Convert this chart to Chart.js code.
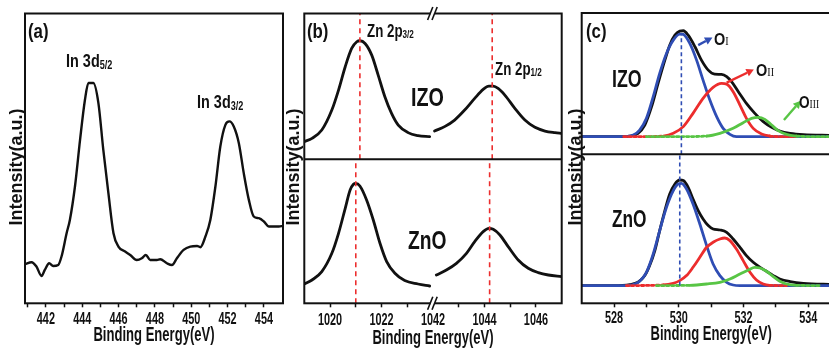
<!DOCTYPE html>
<html><head><meta charset="utf-8">
<script src="https://cdn.jsdelivr.net/npm/chart.js@4.4.1/dist/chart.umd.min.js"></script>
<style>
html,body{margin:0;padding:0;background:#fff;overflow:hidden;width:829px;height:349px;}
#wrap{position:relative;width:829px;height:349px;overflow:hidden;background:#fff;}
#wrap canvas{position:absolute;top:0;}
</style></head><body>
<div id="wrap">
<canvas id="ca" width="286" height="349" style="left:0px"></canvas>
<canvas id="cb" width="278" height="349" style="left:286px"></canvas>
<canvas id="cc" width="300" height="349" style="left:564px"></canvas>
</div>
<script>
// ---------------- data (binding energy in eV, intensity in a.u.) ----------------
// (a) In 3d
const aBE = [440.85,441.21,441.48,441.76,441.94,442.18,442.40,442.68,442.86,443.14,443.32,443.60,443.88,444.15,444.34,444.61,444.89,445.16,445.44,445.72,445.99,446.36,446.64,447.00,447.28,447.50,447.74,448.11,448.29,448.66,448.94,449.21,449.58,449.95,450.32,450.50,450.78,451.05,451.33,451.60,451.88,452.10,452.34,452.62,452.89,453.17,453.44,453.72,454.00,454.27,454.55,454.82,455.05];
const aInt = [39,41,36.7,27.3,33.3,40,37.3,38.3,46.7,70,83.3,116.7,163.3,203.3,220,220,200,153.3,110,70,56.7,51.7,48.3,43.3,45,48.3,43.3,43.3,44,40,38.3,45,53.3,56.7,57.3,56,66.7,83.3,116.7,156.7,178.3,181.7,176.7,160,130,103.3,86.7,85,81.7,76.7,76.7,76.7,77.3];
const aTickMarks = [441,442,443,444,445,446,447,448,449,450,451,452,453,454];
const aTickLabels = [442,444,446,448,450,452,454];

// (b) Zn 2p, broken axis
const bIzo32BE = [1019.0,1019.30,1019.68,1020.07,1020.33,1020.59,1020.84,1021.04,1021.16,1021.36,1021.62,1021.87,1022.13,1022.39,1022.65,1023.03,1023.42,1023.87];
const bIzo32I  = [17.7,21,29.3,49.3,69.3,92.7,111,117.7,118.7,116,104.3,84.3,62.7,46,34.3,26.7,23.7,22.7];
const bZno32BE = [1019.0,1019.30,1019.68,1020.07,1020.33,1020.59,1020.78,1020.91,1021.0,1021.16,1021.42,1021.68,1021.94,1022.20,1022.52,1022.90,1023.42,1023.87];
const bZno32I  = [19.3,23.3,31.7,50,70,95,113.3,119,120,117.3,103.3,83.3,60,41.7,30,22.7,19.3,17.3];
const bIzo12BE = [1042.06,1042.45,1042.84,1043.23,1043.62,1043.95,1044.17,1044.34,1044.53,1044.79,1045.18,1045.57,1045.96,1046.35,1046.74,1047.0];
const bIzo12I  = [28.3,32.7,39.3,49.3,61,70,73.3,73.3,71,64.3,51,39.3,32,28.3,26.7,26];
const bZno12BE = [1042.13,1042.52,1042.91,1043.30,1043.62,1043.95,1044.17,1044.34,1044.60,1044.92,1045.31,1045.70,1046.09,1046.48,1047.0];
const bZno12I  = [28.3,33.3,40,50,61.7,71.7,75,74,68.3,56.7,43.3,35,30.7,28.3,26.7];
const bIzoPeaks = [1021.16, 1044.3];
const bZnoPeaks = [1021.0, 1044.2];
const bLeftTickMarks = [1020,1021,1022,1023];
const bRightTickMarks = [1043,1044,1045,1046];
const bLeftTickLabels = [1020,1022];
const bRightTickLabels = [1042,1044,1046];

// (c) O 1s fits
const cIzoEnvBE = [527.0,528.0,528.5,528.74,528.95,529.16,529.36,529.57,529.72,529.88,530.03,530.14,530.29,530.5,530.7,530.91,531.11,531.32,531.48,531.63,531.84,532.09,532.35,532.61,532.87,533.12,533.44,533.85,534.64,535.0];
const cIzoEnvI  = [17.7,17.7,18.3,21,29.3,47.7,71,94.3,109.3,119.3,123.3,123.7,119.3,107.7,94.3,84.3,80.3,80,77.7,72.7,62.7,51,41,32.7,27,23.3,21,19.7,19,18.8];
const cIzoO1BE = [527.0,528.18,528.59,528.79,529.0,529.21,529.41,529.62,529.83,530.03,530.14,530.34,530.55,530.75,530.96,531.17,531.37,531.58,531.78,535.0];
const cIzoO1I  = [17.7,17.7,19.3,24.3,36,57.7,81,101,114.3,120.3,120,111,94.3,74.3,54.3,37.7,26,20,17.7,17.7];
const cIzoO2BE = [528.3,529.0,529.52,529.83,530.14,530.44,530.75,531.06,531.32,531.48,531.68,531.89,532.09,532.3,532.56,532.82,533.12,533.6];
const cIzoO2I  = [17.7,17.7,18.3,21,27.7,41,56,67,71,70.3,62.7,49.3,36,26,20.3,18.3,17.7,17.7];
const cIzoO3BE = [529.0,530.03,530.86,531.27,531.68,531.99,532.25,532.46,532.66,532.87,533.07,533.33,533.64,534.16,534.64];
const cIzoO3I  = [17.7,17.7,18.3,21,26,31.7,36,37,35,29.3,23.7,20,18.3,17.7,17.7];
const cZnoEnvBE = [527.0,527.97,528.49,528.74,528.95,529.10,529.26,529.41,529.57,529.72,529.88,530.03,530.14,530.29,530.44,530.60,530.75,530.91,531.06,531.27,531.48,531.68,531.89,532.09,532.30,532.51,532.71,532.92,533.12,533.44,533.85,534.64,535.0];
const cZnoEnvI  = [17.7,17.7,18.7,21,27.7,37.7,52.7,72.7,92.7,109.3,119.3,123.3,122.7,116,104.3,92.7,84.3,77.7,74.3,73.3,71,64.3,56,47.7,41,36,32,27.7,24.3,21.7,20,19,18.8];
const cZnoO1BE = [527.0,528.28,528.59,528.79,529.0,529.21,529.41,529.62,529.83,529.98,530.08,530.24,530.44,530.65,530.86,531.06,531.27,531.48,531.68,531.89,535.0];
const cZnoO1I  = [17.7,17.7,18.7,22,31,49.3,72.7,96,112.7,119.3,120,114.3,99.3,79.3,57.7,39.3,27.7,21,18.3,17.7,17.7];
const cZnoO2BE = [528.38,529.52,529.83,530.03,530.24,530.44,530.65,530.86,531.06,531.27,531.42,531.58,531.78,531.99,532.2,532.4,532.61,532.81,533.33];
const cZnoO2I  = [17.7,18.3,20,22.7,27.7,36,46,56,61,64.3,65.3,62.7,54.3,42.7,31,23.3,19.3,18,17.7];
const cZnoO3BE = [529.31,530.34,530.86,531.27,531.58,531.89,532.15,532.35,532.51,532.71,532.92,533.12,533.33,533.64,534.36];
const cZnoO3I  = [17.7,18,19.3,21,24.3,29.3,33.3,36,35.3,32,26.7,22,19.3,18,17.7];
const cBaseline = 17.7;
const cIzoO1Peak = 530.08;
const cZnoO1Peak = 530.03;
const cTickMarks = [528,529,530,531,532,533,534];
const cTickLabels = [528,530,532,534];

// ---------------- styling / helpers ----------------
const FONT = '"Liberation Sans", Arial, Helvetica, sans-serif';
const SERIF = '"Liberation Serif", "DejaVu Serif", serif';
const INK = '#111111';
const RED = '#ec2d2d';
const BLUE = '#2f4db4';
const GREEN = '#58c545';
const SX = 0.72, TICK_SX = 0.64, TITLE_SX = 0.67;
const X_TITLE = 'Binding Energy(eV)';
const Y_TITLE = 'Intensity(a.u.)';

function pts(be, it) { return be.map((x, i) => ({x: x, y: it[i]})); }
function curve(be, it, color, width, xId, yId, extra) {
  return Object.assign({
    data: pts(be, it), borderColor: color, borderWidth: width,
    xAxisID: xId, yAxisID: yId, pointRadius: 0, fill: false,
    cubicInterpolationMode: 'monotone', borderJoinStyle: 'round', borderCapStyle: 'round'
  }, extra || {});
}
function vline(x, y0, y1, color, width, dash, xId, yId) {
  return {data: [{x: x, y: y0}, {x: x, y: y1}], borderColor: color, borderWidth: width, borderDash: dash,
    xAxisID: xId, yAxisID: yId, pointRadius: 0, tension: 0, fill: false};
}
function xAxis(min, max, marks, h, extra) {
  return Object.assign({
    type: 'linear', position: 'bottom', min: min, max: max,
    afterBuildTicks: s => { s.ticks = marks.map(v => ({value: v})); },
    afterFit: s => { s.height = h; },
    ticks: {display: false},
    grid: {display: true, drawOnChartArea: false, drawTicks: true, tickLength: 4, tickWidth: 1.5, tickColor: INK},
    border: {display: false}
  }, extra || {});
}
function yAxis(min, max, extra) {
  return Object.assign({type: 'linear', display: false, min: min, max: max}, extra || {});
}
const nearBase = c => (c.p0.parsed.y < cBaseline + 0.8 && c.p1.parsed.y < cBaseline + 0.8) ? [2.5, 2.5] : undefined;

function text(ctx, parts, x, y, opt) {
  opt = opt || {};
  const sx = opt.sx || SX;
  ctx.save();
  ctx.fillStyle = opt.color || INK;
  ctx.textBaseline = 'alphabetic';
  ctx.textAlign = 'left';
  let total = 0;
  parts.forEach(p => { ctx.font = (p[4] || 'bold') + ' ' + p[1] + 'px ' + (p[3] || FONT); total += ctx.measureText(p[0]).width * sx; });
  let cx = x - (opt.align === 'center' ? total / 2 : (opt.align === 'right' ? total : 0));
  parts.forEach(p => {
    ctx.font = (p[4] || 'bold') + ' ' + p[1] + 'px ' + (p[3] || FONT);
    const w = ctx.measureText(p[0]).width;
    ctx.save(); ctx.translate(cx, y + (p[2] || 0)); ctx.scale(sx, 1); ctx.fillText(p[0], 0, 0); ctx.restore();
    cx += w * sx;
  });
  ctx.restore();
}
function vtext(ctx, s, x, y, size) {
  ctx.save(); ctx.translate(x, y); ctx.rotate(-Math.PI / 2);
  ctx.font = 'bold ' + size + 'px ' + FONT; ctx.fillStyle = INK;
  ctx.textAlign = 'center'; ctx.textBaseline = 'middle'; ctx.fillText(s, 0, 0); ctx.restore();
}

function deco(spec) {
  return {
    id: 'deco',
    afterDraw(chart) {
      const ctx = chart.ctx, a = chart.chartArea, off = spec.offset;
      ctx.save();
      ctx.strokeStyle = INK; ctx.lineWidth = 2;
      ctx.strokeRect(a.left, a.top, a.right - a.left, a.bottom - a.top);
      (spec.dividers || []).forEach(id => {
        const yv = chart.scales[id].bottom;
        ctx.beginPath(); ctx.moveTo(a.left, yv); ctx.lineTo(a.right, yv); ctx.stroke();
      });
      if (spec.breakAt) {
        const bx = chart.scales[spec.breakAt].right;
        [a.top, a.bottom].forEach(by => {
          ctx.fillStyle = '#fff'; ctx.fillRect(bx - 2.5, by - 2, 4.5, 4);
          ctx.lineWidth = 1.6; ctx.strokeStyle = INK;
          [-2.8, 1.6].forEach(dx => {
            ctx.beginPath(); ctx.moveTo(bx + dx - 2.6, by + 6.5); ctx.lineTo(bx + dx + 2.6, by - 6.5); ctx.stroke();
          });
        });
      }
      (spec.arrows || []).forEach(ar => {
        const xs = chart.scales[ar.x], ys = chart.scales[ar.y];
        const x0 = xs.getPixelForValue(ar.from[0]), y0 = ys.getPixelForValue(ar.from[1]);
        const x1 = xs.getPixelForValue(ar.to[0]), y1 = ys.getPixelForValue(ar.to[1]);
        const ang = Math.atan2(y1 - y0, x1 - x0), hl = 7.5, hw = 4;
        const hx = x1 - hl * Math.cos(ang), hy = y1 - hl * Math.sin(ang);
        ctx.strokeStyle = ar.color; ctx.lineWidth = 2.4;
        ctx.beginPath(); ctx.moveTo(x0, y0); ctx.lineTo(hx, hy); ctx.stroke();
        ctx.fillStyle = ar.color; ctx.beginPath(); ctx.moveTo(x1, y1);
        ctx.lineTo(hx + hw * Math.sin(ang), hy - hw * Math.cos(ang));
        ctx.lineTo(hx - hw * Math.sin(ang), hy + hw * Math.cos(ang));
        ctx.closePath(); ctx.fill();
      });
      spec.tickLabels.forEach(t => {
        const s = chart.scales[t.axis];
        t.values.forEach(v => text(ctx, [[String(v), 17]], s.getPixelForValue(v), spec.tickY, {align: 'center', sx: TICK_SX}));
      });
      text(ctx, [[X_TITLE, 19.5]], (a.left + a.right) / 2, spec.titleY, {align: 'center', sx: TITLE_SX});
      vtext(ctx, Y_TITLE, spec.yTitleX - off, spec.yTitleY, 18);
      spec.labels.forEach(l => text(ctx, l.parts, l.x - off, l.y, {align: l.align || 'left', sx: l.sx}));
      ctx.restore();
    }
  };
}

const common = {
  responsive: false, animation: false, devicePixelRatio: 1,
  plugins: {legend: {display: false}, tooltip: {enabled: false}},
  events: []
};

// ---------------- panel (a) ----------------
new Chart(document.getElementById('ca'), {
  type: 'line',
  data: {datasets: [curve(aBE, aInt, INK, 2.4, 'x', 'y')]},
  options: Object.assign({}, common, {
    layout: {padding: {left: 25, right: 3, top: 13.5, bottom: 0}},
    scales: {x: xAxis(440.85, 455.05, aTickMarks, 45.7), y: yAxis(0, 289.5)}
  }),
  plugins: [deco({
    offset: 0, tickY: 324, titleY: 341, yTitleX: 17.5, yTitleY: 167,
    tickLabels: [{axis: 'x', values: aTickLabels}],
    labels: [
      {parts: [['(a)', 21]], x: 28, y: 38, sx: 0.8},
      {parts: [['In 3d', 19], ['5/2', 12, 2]], x: 66, y: 67, sx: 0.76},
      {parts: [['In 3d', 19], ['3/2', 12, 2]], x: 197, y: 108, sx: 0.76}
    ]
  })]
});

// ---------------- panel (b) ----------------
new Chart(document.getElementById('cb'), {
  type: 'line',
  data: {datasets: [
    vline(bIzoPeaks[0], 0, 146, RED, 1.6, [5, 4], 'xl', 'yt'),
    vline(bIzoPeaks[1], 0, 146, RED, 1.6, [5, 4], 'xr', 'yt'),
    vline(bZnoPeaks[0], 0, 144, RED, 1.6, [5, 4], 'xl', 'yb'),
    vline(bZnoPeaks[1], 0, 144, RED, 1.6, [5, 4], 'xr', 'yb'),
    curve(bIzo32BE, bIzo32I, INK, 2.8, 'xl', 'yt'),
    curve(bIzo12BE, bIzo12I, INK, 2.8, 'xr', 'yt'),
    curve(bZno32BE, bZno32I, INK, 2.8, 'xl', 'yb'),
    curve(bZno12BE, bZno12I, INK, 2.8, 'xr', 'yb')
  ]},
  options: Object.assign({}, common, {
    layout: {padding: {left: 18.3, right: 2.3, top: 13.5, bottom: 0}},
    scales: {
      xl: xAxis(1019, 1024, bLeftTickMarks, 45.7, {stack: 'bx', stackWeight: 1}),
      xr: xAxis(1042, 1047, bRightTickMarks, 45.7, {stack: 'bx', stackWeight: 1}),
      yt: yAxis(0, 146, {stack: 'by', stackWeight: 145.8, weight: 2}),
      yb: yAxis(0, 144, {stack: 'by', stackWeight: 144, weight: 1})
    }
  }),
  plugins: [deco({
    offset: 286, tickY: 325, titleY: 344, yTitleX: 294, yTitleY: 167,
    dividers: ['yt'], breakAt: 'xl',
    tickLabels: [{axis: 'xl', values: bLeftTickLabels}, {axis: 'xr', values: bRightTickLabels}],
    labels: [
      {parts: [['(b)', 21]], x: 307, y: 38, sx: 0.8},
      {parts: [['Zn 2p', 18], ['3/2', 11, 1]], x: 367, y: 37, sx: 0.74},
      {parts: [['Zn 2p', 18], ['1/2', 11, 1]], x: 495, y: 75, sx: 0.74},
      {parts: [['IZO', 26]], x: 411, y: 106, sx: 0.76},
      {parts: [['ZnO', 26]], x: 408, y: 249, sx: 0.74}
    ]
  })]
});

// ---------------- panel (c) ----------------
const segDash = {segment: {borderDash: nearBase}};
new Chart(document.getElementById('cc'), {
  type: 'line',
  data: {datasets: [
    vline(cIzoO1Peak, 0, Math.max.apply(null, cIzoO1I), BLUE, 1.6, [4, 3], 'x', 'yt'),
    vline(cZnoO1Peak, cBaseline, 149, BLUE, 1.6, [4, 3], 'x', 'yb'),
    curve(cIzoO3BE, cIzoO3I, GREEN, 2.8, 'x', 'yt', segDash),
    curve(cIzoO2BE, cIzoO2I, RED, 2.8, 'x', 'yt', segDash),
    curve(cIzoO1BE, cIzoO1I, BLUE, 2.8, 'x', 'yt'),
    curve(cIzoEnvBE, cIzoEnvI, INK, 2.8, 'x', 'yt'),
    curve(cZnoO3BE, cZnoO3I, GREEN, 2.8, 'x', 'yb', segDash),
    curve(cZnoO2BE, cZnoO2I, RED, 2.8, 'x', 'yb', segDash),
    curve(cZnoO1BE, cZnoO1I, BLUE, 2.8, 'x', 'yb'),
    curve(cZnoEnvBE, cZnoEnvI, INK, 2.8, 'x', 'yb')
  ]},
  options: Object.assign({}, common, {
    layout: {padding: {left: 17.7, right: 23.4, top: 13, bottom: 0}},
    scales: {
      x: xAxis(527, 535, cTickMarks, 45.7),
      yt: yAxis(0, 141.5, {stack: 'cy', stackWeight: 141.3, weight: 2}),
      yb: yAxis(0, 149, {stack: 'cy', stackWeight: 149, weight: 1})
    }
  }),
  plugins: [deco({
    offset: 564, tickY: 323, titleY: 340, yTitleX: 576, yTitleY: 167,
    dividers: ['yt'],
    tickLabels: [{axis: 'x', values: cTickLabels}],
    arrows: [
      {x: 'x', y: 'yt', from: [530.6, 109.3], to: [531.04, 117], color: BLUE},
      {x: 'x', y: 'yt', from: [531.48, 71.7], to: [532.32, 85], color: RED},
      {x: 'x', y: 'yt', from: [533.25, 34.3], to: [533.77, 53.7], color: GREEN}
    ],
    labels: [
      {parts: [['(c)', 21]], x: 586, y: 38, sx: 0.8},
      {parts: [['IZO', 24]], x: 612, y: 87, sx: 0.74},
      {parts: [['ZnO', 24]], x: 612, y: 227, sx: 0.72},
      {parts: [['O', 17], ['I', 12, 0, SERIF, 'normal']], x: 714, y: 45, sx: 0.85},
      {parts: [['O', 17], ['II', 12, 0, SERIF, 'normal']], x: 756, y: 76, sx: 0.85},
      {parts: [['O', 17], ['III', 12, 0, SERIF, 'normal']], x: 799, y: 108, sx: 0.8}
    ]
  })]
});
</script>
</body></html>
